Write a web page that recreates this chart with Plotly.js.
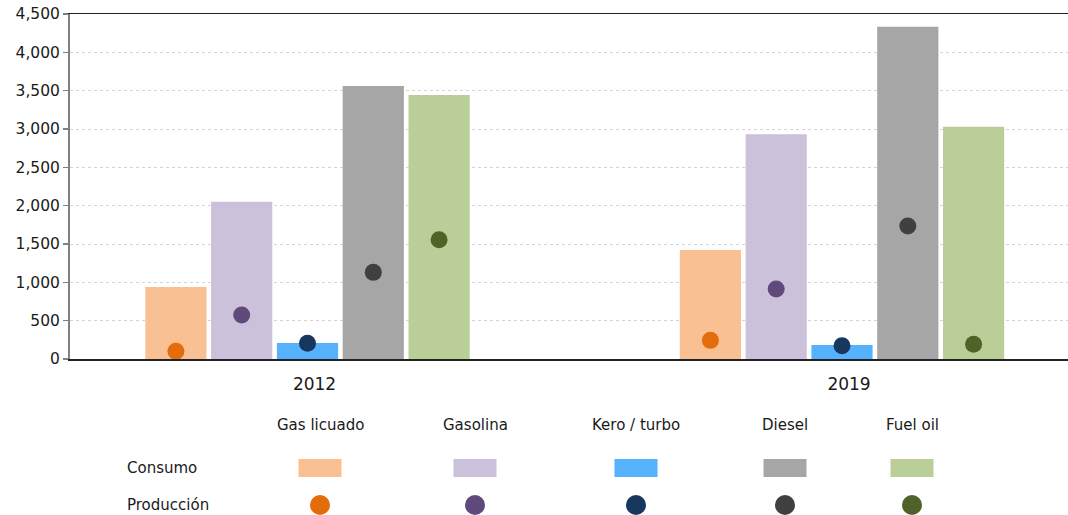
<!DOCTYPE html>
<html>
<head>
<meta charset="utf-8">
<script src="https://cdn.plot.ly/plotly-3.0.1.min.js"></script>
<style>html,body{margin:0;padding:0;background:#fff;}#chart{width:1068px;height:515px;}</style>
</head>
<body>
<div id="chart"></div>
<script>
// ---- data ----
const years = ['2012', '2019'];
const fuels = ['Gas licuado', 'Gasolina', 'Kero / turbo', 'Diesel', 'Fuel oil'];
const rowLabels = ['Consumo', 'Producción'];

const consumoGasLicuado = [940, 1422];
const consumoGasolina   = [2052, 2930];
const consumoKero       = [210, 183];
const consumoDiesel     = [3561, 4334];
const consumoFuelOil    = [3443, 3030];

const produccionGasLicuado = [100, 243];
const produccionGasolina   = [574, 913];
const produccionKero       = [205, 174];
const produccionDiesel     = [1130, 1735];
const produccionFuelOil    = [1556, 191];

const consumoColors    = ['#F9C193', '#CBC1DA', '#57B2FE', '#A6A6A6', '#B9CF97'];
const produccionColors = ['#E46C0A', '#604A7B', '#17375E', '#404040', '#4F6228'];

// ---- build ----
const consumo = [consumoGasLicuado, consumoGasolina, consumoKero, consumoDiesel, consumoFuelOil];
const produccion = [produccionGasLicuado, produccionGasolina, produccionKero, produccionDiesel, produccionFuelOil];

const BARGAP = 0.3845;
const slot = (1 - BARGAP) / fuels.length;
const xIdx = years.map((_, i) => i);

const traces = [];
fuels.forEach((f, j) => {
  traces.push({
    type: 'bar', name: 'Consumo ' + f, x: xIdx, y: consumo[j],
    marker: {color: consumoColors[j], line: {width: 0}},
    hoverinfo: 'y', showlegend: false
  });
});
fuels.forEach((f, j) => {
  const off = (j - (fuels.length - 1) / 2) * slot;
  traces.push({
    type: 'scatter', mode: 'markers', name: 'Producción ' + f,
    x: xIdx.map(i => i + off), y: produccion[j],
    marker: {color: produccionColors[j], size: 17, line: {width: 0}},
    hoverinfo: 'y', showlegend: false
  });
});

// legend table (pixel helpers)
const L = 70, R = 1068, T = 14, B = 359;
const px = x => (x - L) / (R - L);
const py = y => (B - y) / (B - T);
const colX = [320, 475, 636, 785, 912];
const headY = 425, consY = 468, prodY = 505;
const fontFam = '"DejaVu Sans", Verdana, sans-serif';

const annotations = [];
const shapes = [];
fuels.forEach((f, j) => {
  annotations.push({xref: 'paper', yref: 'paper', x: px(colX[j]), y: py(headY),
    text: f, showarrow: false, xanchor: 'center', yanchor: 'middle',
    font: {family: fontFam, size: 15, color: '#1a1a1a'}});
  shapes.push({type: 'rect', xref: 'paper', yref: 'paper',
    xsizemode: 'pixel', ysizemode: 'pixel', xanchor: px(colX[j]), yanchor: py(consY),
    x0: -21.5, x1: 21.5, y0: -9, y1: 9,
    fillcolor: consumoColors[j], line: {width: 0}});
  shapes.push({type: 'circle', xref: 'paper', yref: 'paper',
    xsizemode: 'pixel', ysizemode: 'pixel', xanchor: px(colX[j]), yanchor: py(prodY),
    x0: -10, x1: 10, y0: -10, y1: 10,
    fillcolor: produccionColors[j], line: {width: 0}});
});
[consY, prodY].forEach((yy, k) => {
  annotations.push({xref: 'paper', yref: 'paper', x: px(125), y: py(yy),
    text: rowLabels[k], showarrow: false, xanchor: 'left', yanchor: 'middle',
    font: {family: fontFam, size: 15, color: '#1a1a1a'}});
});

const unitPx = 534.5;
const c0 = 307.5;
const layout = {
  width: 1068, height: 515,
  margin: {l: L, r: 1068 - R, t: T, b: 515 - B, pad: 0},
  paper_bgcolor: '#fff', plot_bgcolor: '#fff',
  barmode: 'group', bargap: BARGAP, bargroupgap: 0.07,
  showlegend: false,
  font: {family: fontFam, size: 15, color: '#1a1a1a'},
  xaxis: {
    type: 'linear', range: [-(c0 - L) / unitPx, -(c0 - L) / unitPx + (R - L) / unitPx],
    tickvals: xIdx, ticktext: years, showgrid: false, zeroline: false,
    showline: true, linecolor: '#222', linewidth: 1.5, mirror: true,
    ticks: '', ticklabelstandoff: 9, ticklabelshift: 7,
    tickfont: {family: fontFam, size: 17, color: '#1a1a1a'}, fixedrange: true
  },
  yaxis: {
    range: [0, 4500], dtick: 500, tickformat: ',',
    showgrid: true, gridcolor: '#d4d4d4', griddash: 'dot', gridwidth: 1,
    zeroline: false, showline: true, linecolor: '#808080', linewidth: 2,
    ticks: 'outside', ticklen: 5, tickcolor: '#808080', tickwidth: 1.5,
    tickfont: {family: fontFam, size: 15.5, color: '#1a1a1a'}, fixedrange: true
  },
  annotations: annotations,
  shapes: shapes
};

Plotly.newPlot('chart', traces, layout, {displayModeBar: false, staticPlot: true});
</script>
</body>
</html>
